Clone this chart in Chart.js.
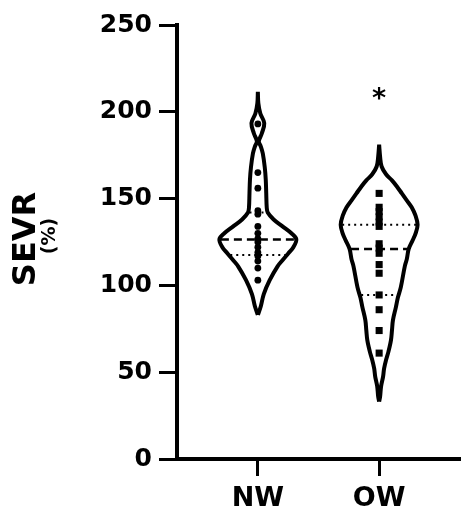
<!DOCTYPE html>
<html lang="en">
<head>
<meta charset="UTF-8">
<title>SEVR violin plot</title>
<script src="https://cdn.jsdelivr.net/npm/chart.js"></script>
<style>
  html, body { margin: 0; padding: 0; background: #fff; }
  .chart-box { width: 465px; height: 512px; position: relative; }
</style>
</head>
<body>
<div class="chart-box"><canvas id="sevrChart"></canvas></div>
<script>
const groups = ['NW', 'OW'];
const yTicks = [0, 50, 100, 150, 200, 250];

// individual SEVR values (%)
const nwValues = [193, 165, 156, 143, 141, 134, 130, 127, 125, 122, 119, 117, 114, 110, 103];
const owValues = [153, 145, 142.5, 139.5, 136.5, 134, 124, 121.5, 118.5, 112, 107, 94.5, 86, 74, 61];

// median / quartile lines as drawn
const medians = [126.5, 121];
const lowerQuartiles = [117.5, 94.5];
const upperQuartiles = [142, 135];

// violin outlines: SEVR level and relative density (half width)
const nwLevels  = [83, 88, 95, 103, 111, 114.5, 118.5, 122, 126.5, 130, 134, 138, 142, 145, 153, 161, 168, 176, 180, 183, 187.5, 193.5, 199, 205, 211.5];
const nwDensity = [0, 3, 6, 12, 20, 25, 31, 36, 39, 34, 25, 16, 10, 9, 8.5, 8, 7, 5, 3, 1, 4, 6.5, 2.5, 0.5, 0];
const owLevels  = [33, 36, 42, 47.5, 52, 57, 62, 68.5, 74, 80, 87.5, 93, 99, 111, 115, 121, 126, 130, 135, 140, 145, 149, 153, 157, 160.5, 164, 168.5, 174, 181];
const owDensity = [0, 1, 2, 4, 5, 7, 9.5, 12, 13, 14, 17, 19, 22, 26, 28, 30, 34, 37, 39, 37, 33, 28, 23, 18, 13, 7, 2.5, 1, 0];

const significance = ['', '*'];

const widthScale = 1 / 123; // density -> x units
const yTickFont = { family: 'DejaVu Sans', size: 25, weight: 'bold' };
const xTickFont = { family: 'DejaVu Sans', size: 27, weight: 'bold' };

function violinOutline(center, levels, density) {
    const right = levels.map((v, i) => ({ x: center + density[i] * widthScale, y: v }));
    const left = levels.map((v, i) => ({ x: center - density[i] * widthScale, y: v })).reverse();
    return right.concat(left);
}

function halfWidthAt(levels, density, value) {
    for (let i = 1; i < levels.length; i++) {
        if (value <= levels[i]) {
            const t = (value - levels[i - 1]) / (levels[i] - levels[i - 1]);
            return (density[i - 1] + t * (density[i] - density[i - 1]) - 1.5) * widthScale;
        }
    }
    return 0;
}

function statLine(center, levels, density, value, dash, width) {
    const w = halfWidthAt(levels, density, value);
    return {
        data: [{ x: center - w, y: value }, { x: center + w, y: value }],
        showLine: true, borderColor: '#000', borderWidth: width, borderDash: dash,
        pointRadius: 0, order: 1
    };
}

const profiles = [[nwLevels, nwDensity], [owLevels, owDensity]];
const datasets = [];

profiles.forEach(([lv, dn], i) => {
    const c = i + 1;
    datasets.push({
        data: violinOutline(c, lv, dn),
        showLine: true, borderColor: '#000', borderWidth: 4,
        tension: 0.35, pointRadius: 0, fill: false, order: 2
    });
    datasets.push(statLine(c, lv, dn, medians[i], [8, 5], 2.5));
    datasets.push(statLine(c, lv, dn, lowerQuartiles[i], [2, 4], 2));
    datasets.push(statLine(c, lv, dn, upperQuartiles[i], [2, 4], 2));
});

datasets.push({
    data: nwValues.map(v => ({ x: 1, y: v })),
    pointStyle: 'circle', pointRadius: 3.4, backgroundColor: '#000', borderWidth: 0, order: 0
});
datasets.push({
    data: owValues.map(v => ({ x: 2, y: v })),
    pointStyle: 'rect', pointRadius: 5, backgroundColor: '#000', borderWidth: 0, order: 0
});

// asterisk and two-part y title
const annotatePlugin = {
    id: 'annotate',
    afterDraw(chart) {
        const { ctx, scales: { x, y } } = chart;
        ctx.save();
        ctx.fillStyle = '#000';
        ctx.textAlign = 'center';
        ctx.textBaseline = 'alphabetic';
        ctx.font = 'bold 27px "DejaVu Sans"';
        significance.forEach((s, i) => {
            if (s) ctx.fillText(s, x.getPixelForValue(i + 1), y.getPixelForValue(203));
        });

        ctx.translate(35, 239);
        ctx.rotate(-Math.PI / 2);
        ctx.font = 'bold 32px "DejaVu Sans"';
        ctx.fillText('SEVR', 0, 0);
        ctx.font = 'bold 19px "DejaVu Sans"';
        ctx.fillText('(%)', 3, 20);
        ctx.restore();
    }
};

new Chart(document.getElementById('sevrChart'), {
    type: 'scatter',
    data: { datasets: datasets },
    plugins: [annotatePlugin],
    options: {
        responsive: true,
        maintainAspectRatio: false,
        animation: false,
        layout: { padding: { top: 25, right: 0, left: 0, bottom: 0 } },
        plugins: { legend: { display: false }, tooltip: { enabled: false } },
        scales: {
            x: {
                type: 'linear',
                min: 1 / 3,
                max: 8 / 3,
                afterBuildTicks: s => { s.ticks = groups.map((g, i) => ({ value: i + 1 })); },
                afterFit: s => { s.height = 53; },
                ticks: {
                    color: '#000', font: xTickFont, padding: 7,
                    callback: v => groups[v - 1]
                },
                grid: { drawOnChartArea: false, tickLength: 17, tickWidth: 3, tickColor: '#000' },
                border: { display: true, color: '#000', width: 4 }
            },
            y: {
                min: 0,
                max: 250,
                afterBuildTicks: s => { s.ticks = yTicks.map(v => ({ value: v })); },
                afterFit: s => { s.width = 177; },
                ticks: { color: '#000', font: yTickFont, padding: 7 },
                grid: { drawOnChartArea: false, tickLength: 18, tickWidth: 3, tickColor: '#000' },
                border: { display: true, color: '#000', width: 4 }
            }
        }
    }
});
</script>
</body>
</html>
